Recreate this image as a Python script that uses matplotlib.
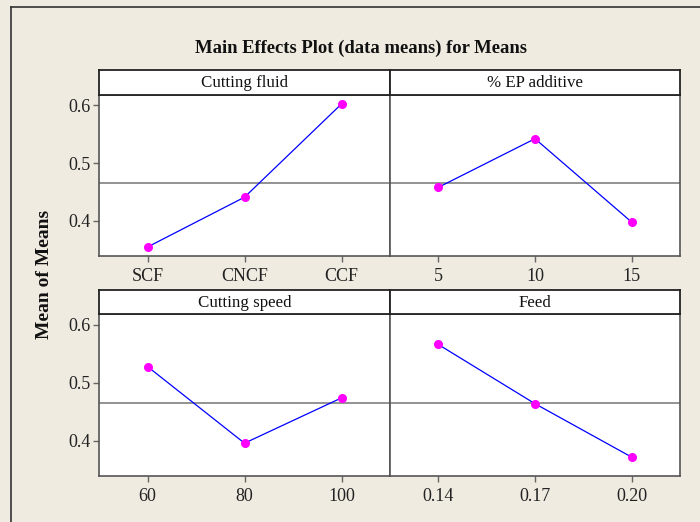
import matplotlib
matplotlib.use("Agg")
import matplotlib.pyplot as plt
from matplotlib.lines import Line2D

# Data
factors = ["Cutting fluid", "% EP additive", "Cutting speed", "Feed"]
cf_levels = ["SCF", "CNCF", "CCF"]
cf_means = [0.355, 0.441, 0.602]
ep_levels = ["5", "10", "15"]
ep_means = [0.458, 0.542, 0.398]
cs_levels = ["60", "80", "100"]
cs_means = [0.528, 0.396, 0.474]
feed_levels = ["0.14", "0.17", "0.20"]
feed_means = [0.566, 0.464, 0.372]
grand_mean = 0.4655
yticks = [0.4, 0.5, 0.6]

levels_all = [cf_levels, ep_levels, cs_levels, feed_levels]
means_all = [cf_means, ep_means, cs_means, feed_means]

plt.rcParams['font.family'] = ['Liberation Serif', 'DejaVu Serif']
BG = '#EFEBE1'
W, H = 700, 522
fig = plt.figure(figsize=(7.0, 5.22), dpi=100, facecolor=BG)

def fx(px):
    return px / W

def fy(py):
    return 1 - py / H

# outer frame lines
fig.add_artist(Line2D([fx(11), fx(11)], [fy(7), 0], color='#333333', lw=1.2, transform=fig.transFigure))
fig.add_artist(Line2D([fx(11), 1], [fy(7), fy(7)], color='#333333', lw=1.2, transform=fig.transFigure))

cols = [(99, 390), (390, 680)]
rows = [(70, 94.7, 255.7), (290, 314.3, 475.7)]
ylo, yhi = 0.340, 0.618
spine_c = '#555555'
TFS = 13

for i in range(4):
    r, c = divmod(i, 2)
    x0, x1 = cols[c]
    st, sb, pb = rows[r]
    ax = fig.add_axes([fx(x0), fy(pb), fx(x1 - x0), (pb - sb) / H])
    ax.set_facecolor('white')
    xs = list(range(1, 4))
    ax.axhline(grand_mean, color='#808080', lw=1.2, zorder=1)
    ax.plot(xs, means_all[i], color='#0000FF', lw=0.9, marker='o', markersize=5.5,
            markerfacecolor='#FF00FF', markeredgecolor='#FF00FF', zorder=3)
    ax.set_xlim(0.5, 3.5)
    ax.set_ylim(ylo, yhi)
    ax.set_xticks(xs)
    ax.set_xticklabels(levels_all[i], fontsize=TFS, color='#222222')
    ax.tick_params(axis='x', direction='out', length=4.5, width=1, color='#666666', pad=4)
    if c == 0:
        ax.set_yticks(yticks)
        ax.set_yticklabels([f"{v:.1f}" for v in yticks], fontsize=TFS, color='#222222')
        ax.tick_params(axis='y', direction='out', length=4, width=1, color='#666666', pad=2)
    else:
        ax.set_yticks([])
    for s in ax.spines.values():
        s.set_color(spine_c)
        s.set_linewidth(1.2)
    # strip
    sax = fig.add_axes([fx(x0), fy(sb), fx(x1 - x0), (sb - st) / H])
    sax.set_facecolor('white')
    sax.set_xticks([])
    sax.set_yticks([])
    for s in sax.spines.values():
        s.set_color('#222222')
        s.set_linewidth(1.3)
    sax.text(0.5, 0.47, factors[i], ha='center', va='center', fontsize=12.2,
             color='#111111', transform=sax.transAxes)

fig.text(fx(361), fy(48), "Main Effects Plot (data means) for Means", ha='center', va='center',
         fontsize=13.4, fontweight='bold', color='#111111')
fig.text(fx(45), fy(274), "Mean of Means", ha='center', va='center', rotation=90,
         fontsize=14, fontweight='bold', color='#111111')

fig.savefig("out.png", dpi=100, facecolor=BG)
